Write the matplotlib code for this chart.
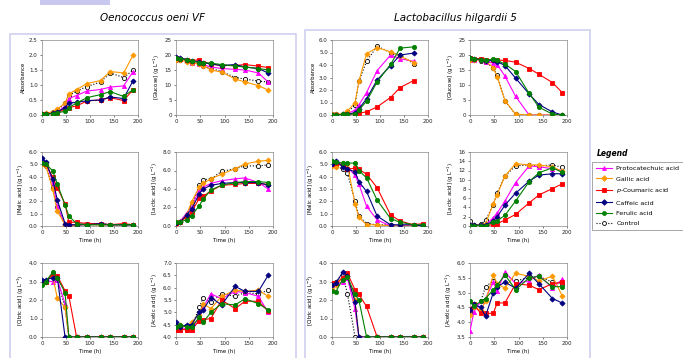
import matplotlib.pyplot as plt
import matplotlib.patches as mpatches
from matplotlib.lines import Line2D
import numpy as np

plt.rcParams['font.family'] = ['DejaVu Sans']
plt.rcParams['mathtext.fontset'] = 'dejavusans'

W, H = 683, 358

# sampling times (h)
t = [0, 8, 22, 32, 48, 56, 72, 94, 122, 142, 170, 190]
t_abs_lh = t[:11]

series = ["Protocatechuic acid", "Gallic acid", r"$p$-Coumaric acid",
          "Caffeic acid", "Ferulic acid", "Control"]
colors = ["#ff00ff", "#ff9900", "#ff0000", "#000080", "#008000", "black"]
markers = ["^", "D", "s", "D", "o", "o"]

# ---- Oenococcus oeni VF ----
oo_abs = [
    [0.02, 0.05, 0.08, 0.10, 0.30, 0.55, 0.65, 0.80, 0.85, 0.93, 0.97, 1.45],
    [0.05, 0.07, 0.10, 0.20, 0.40, 0.70, 0.85, 1.05, 1.15, 1.45, 1.40, 2.00],
    [0.02, 0.03, 0.05, 0.07, 0.20, 0.25, 0.30, 0.47, 0.50, 0.58, 0.48, 0.85],
    [0.02, 0.03, 0.06, 0.10, 0.25, 0.40, 0.42, 0.48, 0.50, 0.60, 0.55, 1.15],
    [0.02, 0.03, 0.05, 0.08, 0.12, 0.25, 0.40, 0.58, 0.68, 0.78, 0.62, 0.85],
    [0.05, 0.05, 0.10, 0.15, 0.40, 0.65, 0.80, 0.95, 1.10, 1.40, 1.25, 1.50],
]
oo_glu = [
    [18.8, 18.8, 18.5, 17.5, 17.0, 16.8, 16.0, 15.5, 15.2, 15.0, 14.0, 11.0],
    [18.5, 18.3, 17.8, 17.5, 17.0, 16.5, 15.0, 14.3, 12.0, 11.0, 9.8, 8.3],
    [19.0, 18.8, 18.5, 18.0, 18.5, 17.5, 17.0, 16.5, 16.5, 16.8, 16.3, 15.8],
    [19.2, 19.0, 18.5, 18.0, 17.8, 17.5, 17.0, 16.5, 16.8, 16.0, 15.5, 14.0],
    [19.0, 18.8, 18.5, 18.0, 17.5, 17.5, 17.3, 16.8, 16.3, 16.0, 15.5, 15.0],
    [18.5, 18.5, 18.0, 17.5, 17.0, 16.5, 15.5, 14.5, 12.5, 12.0, 11.3, 11.0],
]
oo_mal = [
    [5.3, 5.2, 3.6, 1.6, 0.1, 0.1, 0.1, 0.2, 0.1, 0.1, 0.1, 0.1],
    [5.0, 4.9, 3.0, 1.2, 0.1, 0.0, 0.1, 0.1, 0.1, 0.1, 0.1, 0.1],
    [5.1, 5.0, 4.0, 3.1, 1.8, 0.3, 0.3, 0.2, 0.2, 0.1, 0.2, 0.1],
    [5.5, 5.2, 3.8, 2.1, 0.2, 0.1, 0.1, 0.1, 0.2, 0.1, 0.1, 0.1],
    [5.1, 5.0, 4.5, 3.4, 1.7, 0.8, 0.2, 0.1, 0.1, 0.1, 0.1, 0.1],
    [5.0, 4.9, 3.2, 1.5, 0.1, 0.1, 0.1, 0.1, 0.1, 0.1, 0.1, 0.1],
]
oo_lac = [
    [0.0, 0.5, 1.4, 2.0, 4.0, 4.2, 4.6, 4.9, 5.1, 5.2, 4.7, 4.0],
    [0.2, 0.4, 1.2, 2.6, 4.2, 4.6, 5.1, 5.6, 6.2, 6.7, 7.0, 7.1],
    [0.3, 0.4, 1.0, 1.5, 3.0, 3.2, 3.8, 4.4, 4.5, 4.6, 4.6, 4.5],
    [0.3, 0.4, 1.2, 1.8, 3.5, 4.0, 4.4, 4.6, 4.7, 4.7, 4.7, 4.4],
    [0.4, 0.4, 0.7, 1.1, 2.2, 2.9, 3.9, 4.4, 4.7, 4.8, 4.8, 4.7],
    [0.2, 0.4, 1.2, 2.2, 4.4, 5.0, 5.1, 5.9, 6.2, 6.5, 6.5, 6.6],
]
oo_cit = [
    [2.9, 3.0, 3.0, 3.1, 1.8, 0.0, 0.0, 0.0, 0.0, 0.0, 0.0, 0.0],
    [2.9, 3.0, 3.3, 2.1, 1.6, 0.0, 0.0, 0.0, 0.0, 0.0, 0.0, 0.0],
    [2.9, 3.0, 3.4, 3.3, 2.5, 2.2, 0.0, 0.0, 0.0, 0.0, 0.0, 0.0],
    [3.1, 3.1, 3.2, 3.2, 0.0, 0.0, 0.0, 0.0, 0.0, 0.0, 0.0, 0.0],
    [2.8, 3.0, 3.5, 3.2, 2.4, 0.0, 0.0, 0.0, 0.0, 0.0, 0.0, 0.0],
    [3.0, 3.0, 3.3, 3.1, 1.6, 0.0, 0.0, 0.0, 0.0, 0.0, 0.0, 0.0],
]
oo_ace = [
    [4.30, 4.30, 4.35, 4.30, 4.80, 5.20, 5.75, 5.55, 5.85, 5.80, 5.65, 5.00],
    [4.50, 4.50, 4.40, 4.60, 4.90, 5.35, 5.15, 5.65, 5.90, 5.85, 5.90, 5.65],
    [4.30, 4.30, 4.30, 4.30, 4.65, 4.70, 4.75, 5.50, 5.15, 5.45, 5.45, 5.05],
    [4.60, 4.40, 4.50, 4.50, 5.00, 5.10, 5.60, 5.30, 6.05, 5.85, 5.85, 6.50],
    [4.40, 4.50, 4.40, 4.40, 4.80, 4.60, 5.00, 5.35, 5.30, 5.55, 5.35, 5.10],
    [4.40, 4.40, 4.30, 4.40, 5.20, 5.60, 5.40, 5.75, 5.65, 5.80, 5.75, 5.90],
]

# ---- Lactobacillus hilgardii 5 ----
lh_abs = [
    [0.00, 0.00, 0.05, 0.10, 0.40, 0.80, 1.80, 3.55, 4.80, 4.50, 4.30],
    [0.05, 0.05, 0.10, 0.30, 1.00, 2.70, 4.90, 5.40, 5.05, 4.70, 4.20],
    [0.00, 0.00, 0.00, 0.05, 0.10, 0.15, 0.25, 0.65, 1.40, 2.20, 2.75],
    [0.00, 0.00, 0.05, 0.05, 0.20, 0.50, 1.30, 2.80, 3.95, 4.80, 4.95],
    [0.00, 0.00, 0.05, 0.05, 0.10, 0.40, 1.10, 2.65, 4.05, 5.35, 5.45],
    [0.05, 0.05, 0.10, 0.20, 0.80, 2.70, 4.30, 5.50, 5.00, 4.80, 4.10],
]
lh_glu = [
    [18.5, 18.5, 18.3, 17.8, 17.3, 16.8, 13.0, 6.2, 0.0, 0.0, 0.0, 0.0],
    [18.5, 18.5, 18.3, 18.0, 15.8, 12.8, 4.8, 0.3, 0.0, 0.0, 0.0, 0.0],
    [19.0, 18.8, 18.8, 18.5, 18.3, 18.3, 18.2, 17.6, 15.5, 13.6, 10.8, 7.5],
    [19.0, 18.8, 18.5, 18.0, 18.2, 17.8, 16.5, 12.3, 7.0, 3.5, 1.0, 0.0],
    [19.0, 18.8, 18.5, 18.3, 18.6, 18.2, 17.0, 14.5, 7.2, 2.6, 0.3, 0.0],
    [18.5, 18.5, 18.0, 17.8, 15.6, 13.3, 4.7, 0.2, 0.0, 0.0, 0.0, 0.0],
]
lh_mal = [
    [5.0, 5.2, 5.0, 4.8, 4.1, 3.4, 1.6, 0.5, 0.0, 0.0, 0.1, 0.1],
    [4.9, 4.8, 5.1, 5.0, 1.8, 0.7, 0.1, 0.1, 0.0, 0.0, 0.0, 0.0],
    [5.0, 5.1, 4.9, 4.6, 4.7, 4.6, 4.2, 3.1, 0.9, 0.4, 0.1, 0.2],
    [5.0, 5.3, 4.8, 4.6, 4.4, 3.6, 2.8, 0.8, 0.1, 0.1, 0.1, 0.0],
    [5.3, 5.2, 5.1, 5.1, 5.1, 4.5, 3.9, 2.1, 0.6, 0.3, 0.1, 0.1],
    [5.0, 4.9, 4.6, 4.3, 2.0, 0.8, 0.2, 0.1, 0.1, 0.0, 0.0, 0.0],
]
lh_lac = [
    [0.0, 0.0, 0.0, 0.2, 1.8, 2.8, 5.4, 9.4, 13.0, 12.8, 12.4, 12.0],
    [0.2, 0.2, 0.3, 0.5, 4.8, 6.8, 10.8, 13.5, 13.2, 13.2, 12.8, 11.8],
    [0.1, 0.1, 0.1, 0.1, 0.3, 0.5, 1.3, 2.5, 5.0, 6.7, 8.1, 9.1],
    [0.2, 0.2, 0.2, 0.2, 1.1, 2.0, 4.5, 7.1, 9.7, 11.0, 11.3, 11.3],
    [0.1, 0.1, 0.1, 0.1, 0.8, 1.1, 2.3, 5.4, 9.6, 11.5, 12.6, 11.6],
    [1.0, 0.2, 0.4, 1.2, 4.6, 7.2, 10.8, 13.0, 13.2, 13.0, 13.2, 12.7],
]
lh_cit = [
    [2.8, 2.9, 2.95, 3.2, 1.5, 0.0, 0.0, 0.0, 0.0, 0.0, 0.0, 0.0],
    [2.6, 2.8, 3.2, 3.3, 2.0, 0.0, 0.0, 0.0, 0.0, 0.0, 0.0, 0.0],
    [2.9, 2.9, 3.2, 3.45, 2.55, 2.3, 1.65, 0.0, 0.0, 0.0, 0.0, 0.0],
    [2.8, 2.9, 3.5, 3.3, 1.9, 0.0, 0.0, 0.0, 0.0, 0.0, 0.0, 0.0],
    [2.5, 2.45, 3.1, 3.25, 2.3, 2.0, 0.0, 0.0, 0.0, 0.0, 0.0, 0.0],
    [2.9, 3.0, 3.4, 2.35, 0.0, 0.0, 0.0, 0.0, 0.0, 0.0, 0.0, 0.0],
]
lh_ace = [
    [3.70, 4.35, 4.70, 4.80, 5.35, 5.05, 5.70, 5.30, 5.40, 5.60, 5.15, 5.45],
    [4.25, 4.50, 4.40, 4.70, 5.60, 5.30, 5.15, 5.65, 5.55, 5.40, 5.55, 4.90],
    [4.45, 4.60, 4.30, 4.30, 4.30, 4.65, 4.65, 5.30, 5.25, 5.10, 5.30, 5.35],
    [4.40, 4.60, 4.50, 4.20, 5.00, 5.20, 5.35, 5.15, 5.65, 5.30, 4.80, 4.65],
    [4.70, 4.55, 4.70, 4.80, 5.10, 5.25, 5.60, 5.10, 5.50, 5.55, 5.20, 5.20],
    [4.30, 4.50, 4.70, 5.20, 5.40, 5.20, 5.60, 5.40, 5.50, 5.55, 5.35, 5.30],
]

ylab = {
    "abs": "Absorbance",
    "glu": "[Glucose] (g L$^{-1}$)",
    "mal": "[Malic acid] (g L$^{-1}$)",
    "lac": "[Lactic acid] (g L$^{-1}$)",
    "cit": "[Citric acid] (g L$^{-1}$)",
    "ace": "[Acetic acid] (g L$^{-1}$)",
}

fig = plt.figure(figsize=(W / 100, H / 100), dpi=100)
fig.patch.set_facecolor("white")


def px_axes(x0, y0, x1, y1):
    return fig.add_axes([x0 / W, 1 - y1 / H, (x1 - x0) / W, (y1 - y0) / H])


def px_rect(x0, y0, x1, y1, **kw):
    fig.patches.append(mpatches.Rectangle((x0 / W, 1 - y1 / H), (x1 - x0) / W,
                                          (y1 - y0) / H, transform=fig.transFigure, **kw))


# panel frames
px_rect(40, 0, 110, 5, facecolor="#c8c8f0", edgecolor="none")
px_rect(10, 34, 296, 362, facecolor="none", edgecolor="#d0d0f0", lw=1.2)
px_rect(305, 30, 590, 362, facecolor="none", edgecolor="#d0d0f0", lw=1.2)

fig.text(152 / W, 1 - 18 / H, "Oenococcus oeni VF", style="italic",
         ha="center", va="center", fontsize=7.5)
fig.text(455 / W, 1 - 18 / H, "Lactobacillus hilgardii 5", style="italic",
         ha="center", va="center", fontsize=7.5)


def draw(box, xs, data, key, ylim, step, fmt, xlabel):
    ax = px_axes(*box)
    for i in range(6):
        ls = ":" if series[i] == "Control" else "-"
        fc = "white" if series[i] == "Control" else colors[i]
        ms = 3.0 if markers[i] != "D" else 2.6
        ax.plot(xs, data[i], ls=ls, color=colors[i], lw=0.8, marker=markers[i],
                ms=ms, mfc=fc, mec=colors[i], mew=0.6, zorder=3 if i != 5 else 2)
    ax.set_xlim(0, 200)
    ax.set_ylim(*ylim)
    ax.set_xticks([0, 50, 100, 150, 200])
    yt = np.arange(ylim[0], ylim[1] + step / 2, step)
    ax.set_yticks(yt)
    ax.set_yticklabels([fmt.format(v) for v in yt])
    ax.tick_params(labelsize=4.0, length=1.5, width=0.4, pad=1.5, colors="#222222")
    for s in ax.spines.values():
        s.set_color("#888888")
        s.set_linewidth(0.5)
    ax.set_ylabel(ylab[key], fontsize=3.8, labelpad=2)
    if xlabel:
        ax.set_xlabel("Time (h)", fontsize=3.8, labelpad=2)
    return ax


rows_y = [(40, 115), (152, 226), (263, 337)]
left_x = [(42, 138), (176, 273)]
right_x = [(332, 428), (470, 567)]

draw((left_x[0][0], rows_y[0][0], left_x[0][1], rows_y[0][1]), t, oo_abs, "abs", (0, 2.5), 0.5, "{:.1f}", False)
draw((left_x[1][0], rows_y[0][0], left_x[1][1], rows_y[0][1]), t, oo_glu, "glu", (0, 25), 5, "{:.0f}", False)
draw((left_x[0][0], rows_y[1][0], left_x[0][1], rows_y[1][1]), t, oo_mal, "mal", (0, 6), 1, "{:.1f}", True)
draw((left_x[1][0], rows_y[1][0], left_x[1][1], rows_y[1][1]), t, oo_lac, "lac", (0, 8), 2, "{:.1f}", True)
draw((left_x[0][0], rows_y[2][0], left_x[0][1], rows_y[2][1]), t, oo_cit, "cit", (0, 4), 1, "{:.1f}", True)
draw((left_x[1][0], rows_y[2][0], left_x[1][1], rows_y[2][1]), t, oo_ace, "ace", (4, 7), 0.5, "{:.1f}", True)

draw((right_x[0][0], rows_y[0][0], right_x[0][1], rows_y[0][1]), t_abs_lh, lh_abs, "abs", (0, 6), 1, "{:.1f}", False)
draw((right_x[1][0], rows_y[0][0], right_x[1][1], rows_y[0][1]), t, lh_glu, "glu", (0, 25), 5, "{:.0f}", False)
draw((right_x[0][0], rows_y[1][0], right_x[0][1], rows_y[1][1]), t, lh_mal, "mal", (0, 6), 1, "{:.1f}", True)
draw((right_x[1][0], rows_y[1][0], right_x[1][1], rows_y[1][1]), t, lh_lac, "lac", (0, 16), 2, "{:.0f}", True)
draw((right_x[0][0], rows_y[2][0], right_x[0][1], rows_y[2][1]), t, lh_cit, "cit", (0, 4), 1, "{:.1f}", True)
draw((right_x[1][0], rows_y[2][0], right_x[1][1], rows_y[2][1]), t, lh_ace, "ace", (3.5, 6), 0.5, "{:.1f}", True)

# legend
fig.text(597 / W, 1 - 153 / H, "Legend", fontsize=5.5, fontweight="bold",
         style="italic", va="center")
handles = []
for i in range(6):
    ls = ":" if series[i] == "Control" else "-"
    fc = "white" if series[i] == "Control" else colors[i]
    handles.append(Line2D([], [], ls=ls, color=colors[i], lw=0.8, marker=markers[i],
                          ms=2.8, mfc=fc, mec=colors[i], mew=0.6))
leg = fig.legend(handles, series, loc="upper left",
                 bbox_to_anchor=(592 / W, 1 - 162 / H), fontsize=4.6,
                 frameon=True, fancybox=False, edgecolor="#666666",
                 handlelength=2.6, handletextpad=0.6, labelspacing=0.75,
                 borderpad=0.6, borderaxespad=0)
leg.get_frame().set_linewidth(0.5)

fig.savefig("out.png", dpi=100)
